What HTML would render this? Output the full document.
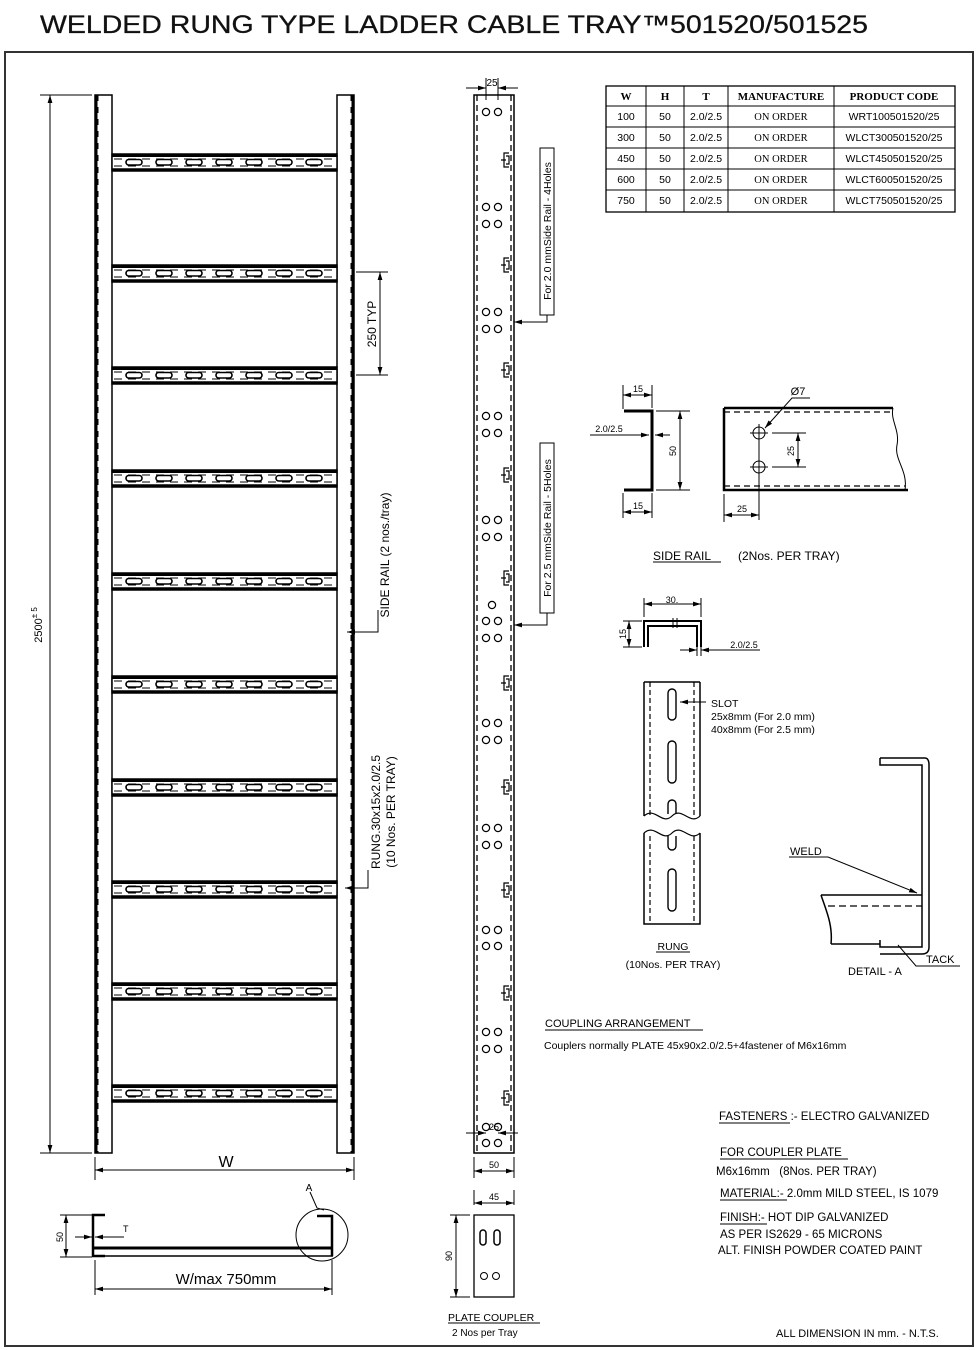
<!DOCTYPE html>
<html><head><meta charset="utf-8"><style>
html,body{margin:0;padding:0;background:#fff;}
svg{display:block;font-family:"Liberation Sans",sans-serif;}
</style></head><body>
<svg id="s" width="979" height="1350" viewBox="0 0 979 1350" xmlns="http://www.w3.org/2000/svg">
<defs>
<marker id="a" viewBox="0 0 10 6" refX="10" refY="3" markerWidth="8" markerHeight="5" orient="auto-start-reverse"><path d="M0,0L10,3L0,6z" fill="#000"/></marker>
</defs>
<text x="40" y="33" font-size="25" fill="#111" stroke="#111" stroke-width="0.3" textLength="828" lengthAdjust="spacingAndGlyphs">WELDED RUNG TYPE LADDER CABLE TRAY™501520/501525</text>
<rect x="5" y="52" width="968" height="1294" fill="none" stroke="#333" stroke-width="2"/>
<g id="ladder" stroke="#000" fill="none">
<rect x="95" y="95" width="17" height="1058" stroke-width="1.5"/>
<line x1="96" y1="95" x2="96" y2="1153" stroke-width="3"/>
<line x1="98" y1="95" x2="98" y2="1153" stroke-width="1" stroke-dasharray="6,6"/>
<rect x="337" y="95" width="17" height="1058" stroke-width="1.5"/>
<line x1="353" y1="95" x2="353" y2="1153" stroke-width="3"/>
<line x1="351" y1="95" x2="351" y2="1153" stroke-width="1" stroke-dasharray="6,6"/>
</g>
<g id="rungs"></g>
<g stroke="#000" stroke-width="1" fill="none">
<line x1="40" y1="95" x2="92" y2="95"/><line x1="40" y1="1153" x2="92" y2="1153"/>
<line x1="50" y1="95" x2="50" y2="1153" marker-start="url(#a)" marker-end="url(#a)"/>
<line x1="356" y1="272" x2="388" y2="272"/><line x1="356" y1="375" x2="388" y2="375"/>
<line x1="380" y1="272" x2="380" y2="375" marker-start="url(#a)" marker-end="url(#a)"/>
<polyline points="378,610 378,632 347,632" marker-end="url(#a)"/>
<polyline points="368,870 368,888 345,888" marker-end="url(#a)"/>
<line x1="95" y1="1157" x2="95" y2="1180"/><line x1="354" y1="1157" x2="354" y2="1180"/>
<line x1="95" y1="1170" x2="354" y2="1170" marker-start="url(#a)" marker-end="url(#a)"/>
</g>
<text transform="translate(42,625) rotate(-90)" font-size="11" text-anchor="middle">2500<tspan dy="-5" font-size="8">± 5</tspan></text>
<text transform="translate(376,324) rotate(-90)" font-size="12" text-anchor="middle">250 TYP</text>
<text transform="translate(389,555) rotate(-90)" font-size="12" text-anchor="middle">SIDE RAIL (2 nos./tray)</text>
<text transform="translate(380,812) rotate(-90)" font-size="12" text-anchor="middle">RUNG.30x15x2.0/2.5</text>
<text transform="translate(395,812) rotate(-90)" font-size="12" text-anchor="middle">(10 Nos. PER TRAY)</text>
<text x="226" y="1167" font-size="16" text-anchor="middle">W</text>
<g stroke="#000" fill="none" stroke-width="1">
<path d="M105,1215 L93,1215 L93,1256 L105,1256" stroke-width="2.5"/>
<line x1="93" y1="1248" x2="333" y2="1248" stroke-width="3"/>
<line x1="93" y1="1256" x2="333" y2="1256" stroke-width="1.5"/>
<path d="M317,1216 L332,1216 L332,1256" stroke-width="2.5"/>
<circle cx="322" cy="1235" r="26"/>
<polyline points="310,1192 317,1208 324,1210" />
<line x1="60" y1="1215" x2="92" y2="1215"/><line x1="60" y1="1257" x2="92" y2="1257"/>
<line x1="66" y1="1215" x2="66" y2="1257" marker-start="url(#a)" marker-end="url(#a)"/>
<line x1="75" y1="1237" x2="92" y2="1237" marker-end="url(#a)"/>
<line x1="124" y1="1237" x2="95" y2="1237" marker-end="url(#a)"/>
<line x1="95" y1="1260" x2="95" y2="1295"/><line x1="332" y1="1260" x2="332" y2="1295"/>
<line x1="95" y1="1289" x2="332" y2="1289" marker-start="url(#a)" marker-end="url(#a)"/>
</g>
<text x="309" y="1191" font-size="10" text-anchor="middle">A</text>
<text x="123" y="1232" font-size="9">T</text>
<text transform="translate(63,1237) rotate(-90)" font-size="9" text-anchor="middle">50</text>
<text x="226" y="1284" font-size="15" text-anchor="middle">W/max 750mm</text>
<g stroke="#000" fill="none">
<rect x="474" y="95" width="40" height="1058" stroke-width="1.5"/>
<line x1="477" y1="95" x2="477" y2="1153" stroke-width="1.3" stroke-dasharray="6,4"/>
<line x1="511" y1="95" x2="511" y2="1153" stroke-width="1.3" stroke-dasharray="6,4"/>
<line x1="486" y1="78" x2="486" y2="100" stroke-width="1"/><line x1="498" y1="78" x2="498" y2="100" stroke-width="1"/>
<line x1="466" y1="88" x2="486" y2="88" marker-end="url(#a)" stroke-width="1"/>
<line x1="518" y1="88" x2="498" y2="88" marker-end="url(#a)" stroke-width="1"/>
<line x1="466" y1="1133" x2="486" y2="1133" marker-end="url(#a)" stroke-width="1"/>
<line x1="518" y1="1133" x2="498" y2="1133" marker-end="url(#a)" stroke-width="1"/>
<line x1="474" y1="1157" x2="474" y2="1178" stroke-width="1"/><line x1="514" y1="1157" x2="514" y2="1178" stroke-width="1"/>
<line x1="474" y1="1171" x2="514" y2="1171" marker-start="url(#a)" marker-end="url(#a)" stroke-width="1"/>
<rect x="540" y="148" width="14" height="167" stroke-width="1"/>
<polyline points="547,315 547,322 514,322" stroke-width="1" marker-end="url(#a)"/>
<rect x="540" y="443" width="14" height="170" stroke-width="1"/>
<polyline points="547,613 547,625 514,625" stroke-width="1" marker-end="url(#a)"/>
</g>
<g id="strip"></g>
<text x="492" y="86" font-size="10" text-anchor="middle">25</text>
<text x="494" y="1130" font-size="9" text-anchor="middle">25</text>
<text x="494" y="1168" font-size="9" text-anchor="middle">50</text>
<text transform="translate(551,231) rotate(-90)" font-size="10.5" text-anchor="middle">For 2.0 mmSide Rail - 4Holes</text>
<text transform="translate(551,528) rotate(-90)" font-size="10.5" text-anchor="middle">For 2.5 mmSide Rail - 5Holes</text>
<g stroke="#000" fill="none" stroke-width="1">
<line x1="474" y1="1190" x2="474" y2="1205"/><line x1="514" y1="1190" x2="514" y2="1205"/>
<line x1="474" y1="1203" x2="514" y2="1203" marker-start="url(#a)" marker-end="url(#a)"/>
<rect x="474" y="1215" width="40" height="82" stroke-width="1.3"/>
<rect x="480" y="1230" width="6" height="15" rx="3" stroke-width="1.5"/>
<rect x="494" y="1230" width="6" height="15" rx="3" stroke-width="1.5"/>
<circle cx="484" cy="1276" r="3.5"/><circle cx="496" cy="1276" r="3.5"/>
<line x1="450" y1="1215" x2="470" y2="1215"/><line x1="450" y1="1297" x2="470" y2="1297"/>
<line x1="456" y1="1215" x2="456" y2="1297" marker-start="url(#a)" marker-end="url(#a)"/>
<line x1="448" y1="1323" x2="540" y2="1323"/>
</g>
<text x="494" y="1200" font-size="9" text-anchor="middle">45</text>
<text transform="translate(452,1256) rotate(-90)" font-size="9" text-anchor="middle">90</text>
<text x="448" y="1321" font-size="10.5">PLATE COUPLER</text>
<text x="452" y="1336" font-size="10">2 Nos per Tray</text>
<g stroke="#000" fill="none" stroke-width="1">
<rect x="606" y="86" width="349" height="126" stroke-width="1.3"/>
<line x1="606" y1="106" x2="955" y2="106"/><line x1="606" y1="127" x2="955" y2="127"/>
<line x1="606" y1="148" x2="955" y2="148"/><line x1="606" y1="169" x2="955" y2="169"/>
<line x1="606" y1="190" x2="955" y2="190"/>
<line x1="646" y1="86" x2="646" y2="212"/><line x1="684" y1="86" x2="684" y2="212"/>
<line x1="728" y1="86" x2="728" y2="212"/><line x1="834" y1="86" x2="834" y2="212"/>
</g>
<g font-family="Liberation Serif,serif" font-size="11" text-anchor="middle">
<g font-weight="bold"><text x="626" y="100">W</text><text x="665" y="100">H</text><text x="706" y="100">T</text><text x="781" y="100">MANUFACTURE</text><text x="894" y="100">PRODUCT CODE</text></g>
</g>
<g id="tbl" font-size="10.5" text-anchor="middle"></g>
<g stroke="#000" fill="none" stroke-width="1">
<path d="M624,411 L652,411 L652,490 L624,490" stroke-width="3"/>
<line x1="623" y1="385" x2="623" y2="409"/><line x1="652" y1="385" x2="652" y2="408"/>
<line x1="623" y1="395" x2="652" y2="395" marker-start="url(#a)" marker-end="url(#a)"/>
<line x1="623" y1="493" x2="623" y2="518"/><line x1="652" y1="493" x2="652" y2="518"/>
<line x1="623" y1="512" x2="652" y2="512" marker-start="url(#a)" marker-end="url(#a)"/>
<line x1="590" y1="435" x2="649" y2="435" marker-end="url(#a)"/>
<line x1="670" y1="435" x2="655" y2="435" marker-end="url(#a)"/>
<line x1="656" y1="411" x2="690" y2="411"/><line x1="656" y1="490" x2="690" y2="490"/>
<line x1="680" y1="411" x2="680" y2="490" marker-start="url(#a)" marker-end="url(#a)"/>
<path d="M724,408 L893,408 M724,408 L724,490 L908,490" stroke-width="2.5"/>
<path d="M724,412 L893,412 M724,486 L905,486" stroke-width="1.2" stroke-dasharray="6,4"/>
<path d="M893,408 C890,420 900,430 897,445 C894,460 908,470 905,490"/>
<circle cx="759" cy="433" r="6"/><circle cx="759" cy="467" r="6"/>
<line x1="750" y1="433" x2="768" y2="433"/><line x1="750" y1="467" x2="768" y2="467"/>
<line x1="759" y1="424" x2="759" y2="520"/>
<line x1="772" y1="433" x2="806" y2="433"/><line x1="772" y1="467" x2="806" y2="467"/>
<line x1="798" y1="433" x2="798" y2="467" marker-start="url(#a)" marker-end="url(#a)"/>
<polyline points="810,398 792,398 765,428" marker-end="url(#a)"/>
<line x1="724" y1="494" x2="724" y2="522"/>
<line x1="724" y1="515" x2="759" y2="515" marker-start="url(#a)" marker-end="url(#a)"/>
<line x1="653" y1="562" x2="721" y2="562"/>
</g>
<g font-size="9" text-anchor="middle">
<text x="638" y="392">15</text><text x="638" y="509">15</text>
<text x="609" y="432">2.0/2.5</text>
<text transform="translate(676,451) rotate(-90)">50</text>
<text x="798" y="395" font-size="11">Ø7</text>
<text transform="translate(794,451) rotate(-90)">25</text>
<text x="742" y="512">25</text>
</g>
<text x="653" y="560" font-size="12">SIDE RAIL</text>
<text x="738" y="560" font-size="12">(2Nos. PER TRAY)</text>
<g stroke="#000" fill="none" stroke-width="1">
<path d="M644,647 L644,621 L701,621 L701,647 M648,647 L648,626 L697,626 L697,647" stroke-width="2"/>
<line x1="673" y1="618" x2="673" y2="628"/><line x1="677" y1="618" x2="677" y2="628"/>
<line x1="644" y1="598" x2="644" y2="617"/><line x1="701" y1="598" x2="701" y2="617"/>
<line x1="644" y1="604" x2="701" y2="604" marker-start="url(#a)" marker-end="url(#a)"/>
<line x1="623" y1="621" x2="642" y2="621"/><line x1="623" y1="647" x2="642" y2="647"/>
<line x1="629" y1="621" x2="629" y2="647" marker-start="url(#a)" marker-end="url(#a)"/>
<line x1="680" y1="650" x2="697" y2="650" marker-end="url(#a)"/>
<line x1="760" y1="650" x2="701" y2="650" marker-end="url(#a)"/>
<line x1="697" y1="645" x2="697" y2="656"/><line x1="701" y1="645" x2="701" y2="656"/>
</g>
<text x="672" y="603" font-size="9" text-anchor="middle">30.</text>
<text transform="translate(626,634) rotate(-90)" font-size="9" text-anchor="middle">15</text>
<text x="744" y="648" font-size="9" text-anchor="middle">2.0/2.5</text>
<g stroke="#000" fill="none">
<path d="M644,682 L644,816 M700,682 L700,816 M644,682 L700,682" stroke-width="1.5"/>
<path d="M644,816 C655,806 662,826 672,816 C682,806 690,826 700,816" stroke-width="1.2"/>
<path d="M644,833 C655,823 662,843 672,833 C682,823 690,843 700,833" stroke-width="1.2"/>
<path d="M644,833 L644,924 L700,924 L700,833" stroke-width="1.5"/>
<path d="M650,682 L650,815 M694,682 L694,815 M650,836 L650,924 M694,836 L694,924" stroke-width="1.2" stroke-dasharray="5,3"/>
<rect x="668" y="689" width="8" height="31" rx="4" stroke-width="1.4"/>
<rect x="668" y="741" width="8" height="42" rx="4" stroke-width="1.4"/>
<path d="M668,814 L668,804 A4,4 0 0 1 676,804 L676,814" stroke-width="1.4"/>
<path d="M668,836 L668,846 A4,4 0 0 0 676,846 L676,836" stroke-width="1.4"/>
<rect x="668" y="869" width="8" height="42" rx="4" stroke-width="1.4"/>
<line x1="706" y1="702" x2="680" y2="702" stroke-width="1" marker-end="url(#a)"/>
<line x1="656" y1="952" x2="690" y2="952" stroke-width="1"/>
</g>
<text x="711" y="707" font-size="10.5">SLOT</text>
<text x="711" y="720" font-size="10.5">25x8mm (For 2.0 mm)</text>
<text x="711" y="733" font-size="10.5">40x8mm (For 2.5 mm)</text>
<text x="673" y="950" font-size="10.5" text-anchor="middle">RUNG</text>
<text x="673" y="968" font-size="10.5" text-anchor="middle">(10Nos. PER TRAY)</text>
<g stroke="#000" fill="none" stroke-width="1.5">
<path d="M880,758 L880,765 L922,765 L922,947 L880,947 L880,940 M880,758 L925,758 Q929,758 929,765 L929,947 Q929,954 922,954 L880,954"/>
<path d="M821,895 L922,895 M831,944 L880,944 M821,895 C826,910 833,925 831,944"/>
<line x1="828" y1="906" x2="922" y2="906" stroke-dasharray="7,4" stroke-width="1.3"/>
<polyline points="789,857 828,857 917,893" stroke-width="1" marker-end="url(#a)"/>
<polyline points="898,945 916,966 960,966" stroke-width="1"/>
</g>
<text x="790" y="855" font-size="11">WELD</text>
<text x="926" y="963" font-size="11">TACK</text>
<text x="848" y="975" font-size="11">DETAIL - A</text>
<text x="545" y="1027" font-size="11">COUPLING ARRANGEMENT</text>
<line x1="545" y1="1030" x2="703" y2="1030" stroke="#000"/>
<text x="544" y="1049" font-size="10.5">Couplers normally PLATE 45x90x2.0/2.5+4fastener of M6x16mm</text>
<g font-size="11.5">
<text x="719" y="1120">FASTENERS :- ELECTRO GALVANIZED</text>
<text x="720" y="1156">FOR COUPLER PLATE</text>
<text x="716" y="1175">M6x16mm &#160;&#160;(8Nos. PER TRAY)</text>
<text x="720" y="1197">MATERIAL:- 2.0mm MILD STEEL, IS 1079</text>
<text x="720" y="1221">FINISH:- HOT DIP GALVANIZED</text>
<text x="720" y="1238">AS PER IS2629 - 65 MICRONS</text>
<text x="718" y="1254">ALT. FINISH POWDER COATED PAINT</text>
<text x="776" y="1337" font-size="11">ALL DIMENSION IN mm. - N.T.S.</text>
</g>
<g stroke="#000" stroke-width="1">
<line x1="719" y1="1123" x2="790" y2="1123"/><line x1="720" y1="1159" x2="848" y2="1159"/>
<line x1="720" y1="1200" x2="787" y2="1200"/><line x1="720" y1="1224" x2="767" y2="1224"/>
</g>
<script>
var NS="http://www.w3.org/2000/svg";
function el(p,t,a){var e=document.createElementNS(NS,t);for(var k in a)e.setAttribute(k,a[k]);p.appendChild(e);return e;}
var R=document.getElementById("rungs");
[154,265,367,470,573,676,779,881,983,1085].forEach(function(y){
 el(R,"rect",{x:112,y:y,width:225,height:17,fill:"#fff",stroke:"#000","stroke-width":1.5});
 el(R,"line",{x1:112,y1:y+1.5,x2:337,y2:y+1.5,stroke:"#000","stroke-width":3});
 el(R,"line",{x1:112,y1:y+15.5,x2:337,y2:y+15.5,stroke:"#000","stroke-width":2.5});
 el(R,"line",{x1:114,y1:y+5,x2:335,y2:y+5,stroke:"#000","stroke-width":1,"stroke-dasharray":"8,6"});
 el(R,"line",{x1:114,y1:y+12,x2:335,y2:y+12,stroke:"#000","stroke-width":1,"stroke-dasharray":"8,6"});
 for(var i=0;i<7;i++)el(R,"rect",{x:126+i*30,y:y+5.5,width:16,height:5.5,rx:2.7,fill:"#fff",stroke:"#000","stroke-width":1.6});
});
var S=document.getElementById("strip");
function hp(y){el(S,"circle",{cx:486,cy:y,r:3.6,fill:"none",stroke:"#000","stroke-width":1.2});el(S,"circle",{cx:498,cy:y,r:3.6,fill:"none",stroke:"#000","stroke-width":1.2});}
[112,207,224,312,329,416,433,520,537,621,638,723,740,828,845,930,946,1032,1049,1127,1143].forEach(hp);
el(S,"circle",{cx:492,cy:605,r:3.6,fill:"none",stroke:"#000","stroke-width":1.2});
[160,265,370,475,578,683,787,890,993,1098].forEach(function(y){
 el(S,"path",{d:"M509,"+(y-7)+" L504,"+(y-7)+" L504,"+(y+7)+" L509,"+(y+7)+" M506,"+(y-4)+" L509,"+(y-4)+" L509,"+(y+4)+" L506,"+(y+4)+" M501,"+y+" L506,"+y,fill:"none",stroke:"#000","stroke-width":1.2});
});
var T=document.getElementById("tbl");
[["100","WRT100501520/25"],["300","WLCT300501520/25"],["450","WLCT450501520/25"],["600","WLCT600501520/25"],["750","WLCT750501520/25"]].forEach(function(r,i){
 var y=120+i*21;
 [[626,r[0]],[665,"50"],[706,"2.0/2.5"],[781,"ON ORDER"],[894,r[1]]].forEach(function(c){
  var t=el(T,"text",{x:c[0],y:y});t.textContent=c[1];
  if(c[1]=="ON ORDER")t.setAttribute("font-family","Liberation Serif,serif");
 });
});
</script>
</svg>
</body></html>
